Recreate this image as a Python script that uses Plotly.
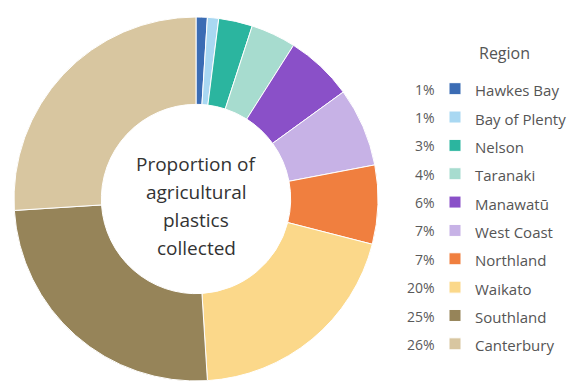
import plotly.graph_objects as go

regions = ["Hawkes Bay", "Bay of Plenty", "Nelson", "Taranaki", "Manawatū",
           "West Coast", "Northland", "Waikato", "Southland", "Canterbury"]
shares = [1, 1, 3, 4, 6, 7, 7, 20, 25, 26]
colors = ["#3b6cb4", "#a9d8f2", "#2bb59f", "#a7dccf", "#8a50c8",
          "#c7b2e6", "#f07f3f", "#fbd88a", "#968459", "#d8c6a0"]
center_lines = ["Proportion of", "agricultural", "plastics", "collected"]
legend_title = "Region"

W, H = 578, 388
OFF = 8  # page body margin


def px(x):
    return (x - OFF) / W


def py(y):
    return 1 - (y - OFF) / H


fig = go.Figure(go.Pie(
    labels=[f'<span style="font-size:15px">{r}</span>' for r in regions],
    values=shares,
    marker=dict(colors=colors, line=dict(color="white", width=1)),
    hole=0.52,
    sort=False,
    direction="clockwise",
    rotation=0,
    textinfo="none",
    hoverinfo="label+percent",
    domain=dict(x=[px(14), px(378)], y=[py(381), py(17)]),
))

annotations = []
for i, line in enumerate(center_lines):
    annotations.append(dict(
        text=line, x=px(196), y=py(164 + i * 28), xref="paper", yref="paper",
        xanchor="center", yanchor="middle", showarrow=False,
        font=dict(family="Open Sans", size=19, color="#333333")))

for i, v in enumerate(shares):
    annotations.append(dict(
        text=f"{v}%", x=px(437), y=py(89 + i * 28.4), xref="paper", yref="paper",
        xanchor="right", yanchor="middle", showarrow=False,
        font=dict(family="Open Sans", size=14, color="#5a5a5a")))

annotations.append(dict(
    text=legend_title, x=px(504), y=py(53), xref="paper", yref="paper",
    xanchor="center", yanchor="middle", showarrow=False,
    font=dict(family="Open Sans", size=16, color="#555555")))

fig.update_layout(
    width=W, height=H,
    margin=dict(l=0, r=0, t=0, b=0),
    paper_bgcolor="white",
    plot_bgcolor="white",
    showlegend=True,
    legend=dict(
        x=px(435), y=py(69.5), xanchor="left", yanchor="top",
        font=dict(family="Open Sans", size=19.5, color="#555555"),
        bgcolor="rgba(0,0,0,0)",
        traceorder="normal",
    ),
    annotations=annotations,
)

fig.write_html("out.html")
